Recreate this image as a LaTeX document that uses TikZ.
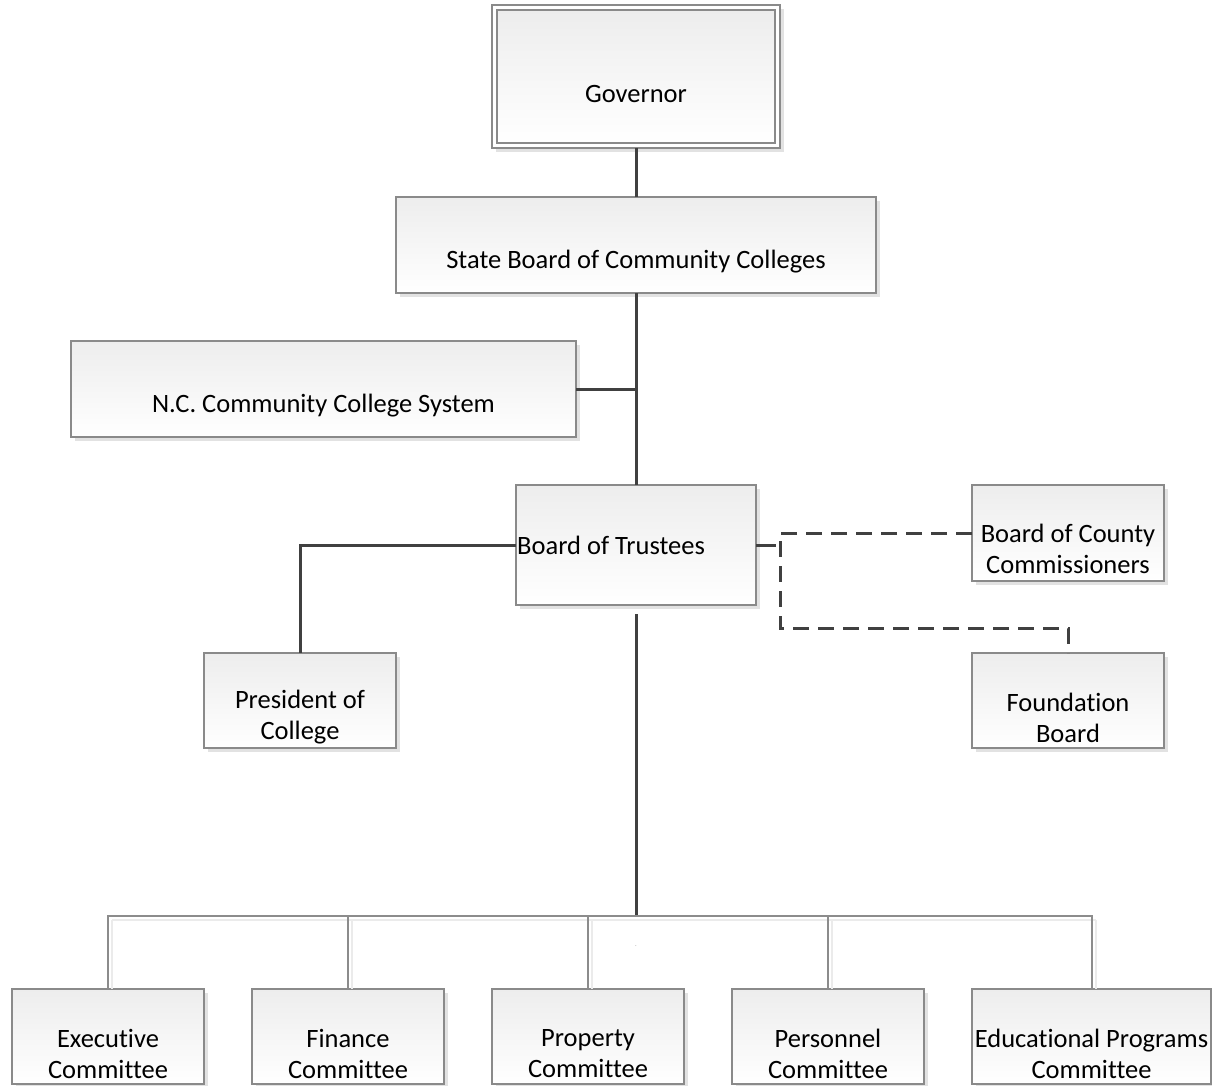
\documentclass[tikz,border=0pt]{standalone}
\usepackage{fontspec}
\setmainfont{Carlito}[Ligatures={NoCommon}]
\usetikzlibrary{shadows,calc}
\definecolor{boxgray}{HTML}{8A8A8A}
\definecolor{topfill}{HTML}{EDEDED}
\definecolor{shadowgray}{HTML}{E2E2E2}
\definecolor{linegray}{HTML}{404040}
\definecolor{busgray}{HTML}{8C8C8C}
\definecolor{busshade}{HTML}{EBEBEB}
\tikzset{
  box/.style={draw=boxgray, line width=1.5pt, top color=topfill, bottom color=white,
    drop shadow={shadow xshift=4pt, shadow yshift=-4pt, fill=shadowgray, opacity=1},
    inner sep=0pt, outer sep=0pt},
  plainbox/.style={draw=boxgray, line width=1.5pt, top color=topfill, bottom color=white,
    inner sep=0pt, outer sep=0pt},
  outerbox/.style={draw=boxgray, line width=1.5pt, fill=white,
    drop shadow={shadow xshift=4pt, shadow yshift=-4pt, fill=shadowgray, opacity=1},
    inner sep=0pt, outer sep=0pt},
  lbl/.style={font=\fontsize{26.5}{31}\selectfont, align=center, inner sep=0pt},
  conn/.style={draw=linegray, line width=3pt},
  busline/.style={draw=busgray, line width=2pt},
  busshadow/.style={draw=busshade, line width=2pt},
  dashconn/.style={draw=linegray, line width=3pt, dash pattern=on 16pt off 9pt},
}
\begin{document}
\begin{tikzpicture}[x=1pt,y=-1pt]
\useasboundingbox (0,0) rectangle (1212,1086);

% Governor (double border)
\node[outerbox, minimum width=288pt, minimum height=143pt] (govout) at (636,76.5) {};
\node[plainbox, minimum width=278pt, minimum height=133pt] (gov) at (636,76.5) {};
\node[lbl] (govl) at ([yshift=-17pt]gov.center) {Governor};

% State Board
\node[box, minimum width=480pt, minimum height=96pt] (sb) at (636,245) {};
\node[lbl] (sbl) at ([yshift=-17pt]sb.center) {State Board of Community Colleges};

% NC Community College System
\node[box, minimum width=505pt, minimum height=96pt] (nccs) at (323.5,389) {};
\node[lbl] (nccsl) at ([yshift=-17pt]nccs.center) {N.C. Community College System};

% Board of Trustees
\node[box, minimum width=240pt, minimum height=120pt] (bot) at (636,545) {};
\node[lbl, anchor=west] (botl) at (517,545) {Board of Trustees};

% President
\node[box, minimum width=192pt, minimum height=95pt] (pres) at (300,700.5) {};
\node[lbl] (presl) at ([yshift=-17pt]pres.center) {President of\\College};

% Board of County Commissioners
\node[box, minimum width=192pt, minimum height=96pt] (bcc) at (1068,533) {};
\node[lbl] (bccl) at ([yshift=-16pt]bcc.center) {Board of County\\Commissioners};

% Foundation Board
\node[box, minimum width=192pt, minimum height=95pt] (found) at (1068,700.5) {};
\node[lbl] (foundl) at ([yshift=-17pt]found.center) {Foundation\\Board};

% Committees
\node[box, minimum width=192pt, minimum height=95pt] (exec) at (108,1036.5) {};
\node[lbl] (execl) at ([yshift=-17pt]exec.center) {Executive\\Committee};
\node[box, minimum width=192pt, minimum height=95pt] (fin) at (348,1036.5) {};
\node[lbl] (finl) at ([yshift=-17pt]fin.center) {Finance\\Committee};
\node[box, minimum width=192pt, minimum height=95pt] (prop) at (588,1036.5) {};
\node[lbl] (propl) at ([yshift=-17pt]prop.center) {Property\\Committee};
\node[box, minimum width=192pt, minimum height=95pt] (pers) at (828,1036.5) {};
\node[lbl] (persl) at ([yshift=-17pt]pers.center) {Personnel\\Committee};
\node[box, minimum width=239pt, minimum height=95pt] (edu) at (1091.5,1036.5) {};
\node[lbl] (edul) at ([yshift=-17pt]edu.center) {Educational Programs\\Committee};

% Main connectors
\draw[conn] (govout.south) -- (sb.north);
\draw[conn] (sb.south) -- (bot.north);
\draw[conn] (nccs.east) -- (nccs.east -| sb.south);
\draw[conn] (bot.west) -| (pres.north);

% Dashed connectors
\coordinate (stub) at (776,545);
\coordinate (dk) at (780,628);
\draw[conn] (bot.east) -- (stub);
\draw[dashconn] (bcc.west) -- (bcc.west -| dk) -- (dk) -| (found.north);

% Bus to committees
\coordinate (bus) at (636,916);
\draw[conn] ([yshift=-9pt]bot.south) -- (bus);
\foreach \c in {exec,fin,prop,pers,edu}{
  \draw[busshadow] ($(\c.north)+(4,0)$) -- ($(\c.north |- bus)+(4,4)$);
}
\draw[busshadow] ($(exec.north |- bus)+(4,4)$) -- ($(edu.north |- bus)+(4,4)$);
\draw[busline] (exec.north) |- (edu.north |- bus) -- (edu.north);
\foreach \c in {fin,prop,pers}{
  \draw[busline] (\c.north) -- (\c.north |- bus);
}
\node[font=\fontsize{5}{5}\selectfont, text=linegray, inner sep=0pt] (dot) at (636,946) {.};
\end{tikzpicture}
\end{document}
